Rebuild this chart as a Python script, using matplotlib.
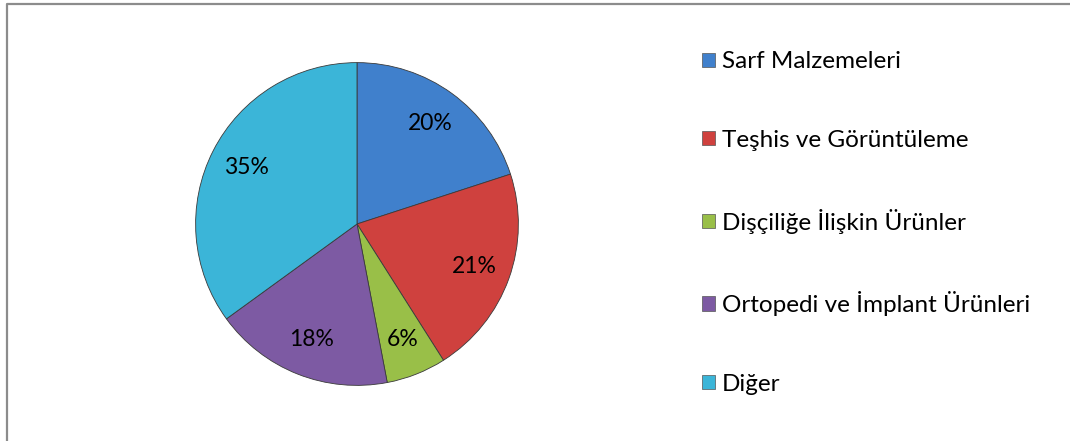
import matplotlib.pyplot as plt
from matplotlib.lines import Line2D

# 数据
categories = ['Sarf Malzemeleri', 'Teşhis ve Görüntüleme', 'Dişçiliğe İlişkin Ürünler',
              'Ortopedi ve İmplant Ürünleri', 'Diğer']
shares = [20, 21, 6, 18, 35]
colors = ['#4080CC', '#CF413E', '#99BF48', '#7D5AA3', '#3BB5D8']

plt.rcParams['font.family'] = ['Lato', 'DejaVu Sans']

W, H = 1070, 441
fig = plt.figure(figsize=(W / 100, H / 100), dpi=100)
fig.patch.set_facecolor('white')

# 饼图区域: 圆心 (357,224), 半径 163 px
cx, cy, r = 357, 224, 163
ax = fig.add_axes([(cx - r) / W, (H - cy - r) / H, 2 * r / W, 2 * r / H])
wedges, texts, autotexts = ax.pie(
    shares, colors=colors, startangle=90, counterclock=False,
    autopct='%d%%', pctdistance=0.77,
    wedgeprops=dict(edgecolor='#3a3a3a', linewidth=0.6),
    textprops=dict(fontsize=16.5, color='black'))
ax.set_xlim(-1.01, 1.01)
ax.set_ylim(-1.01, 1.01)
ax.set_aspect('equal')
ax.axis('off')

# 图例
leg = fig.legend(wedges, categories, loc='center left',
                 bbox_to_anchor=(702 / W, 1 - 223 / H),
                 frameon=False, fontsize=17.5, handlelength=0.52, handleheight=0.52,
                 handletextpad=0.3, labelspacing=2.37, borderpad=0, borderaxespad=0)
for h in leg.legend_handles:
    h.set_edgecolor('#555555')
    h.set_linewidth(0.5)

# 外框
fig.add_artist(Line2D([6.5 / W, 6.5 / W, 1.0], [0, 1 - 3.5 / H, 1 - 3.5 / H],
                      transform=fig.transFigure, color='#8c8c8c', linewidth=1.6))

fig.savefig('out.png', dpi=100)
